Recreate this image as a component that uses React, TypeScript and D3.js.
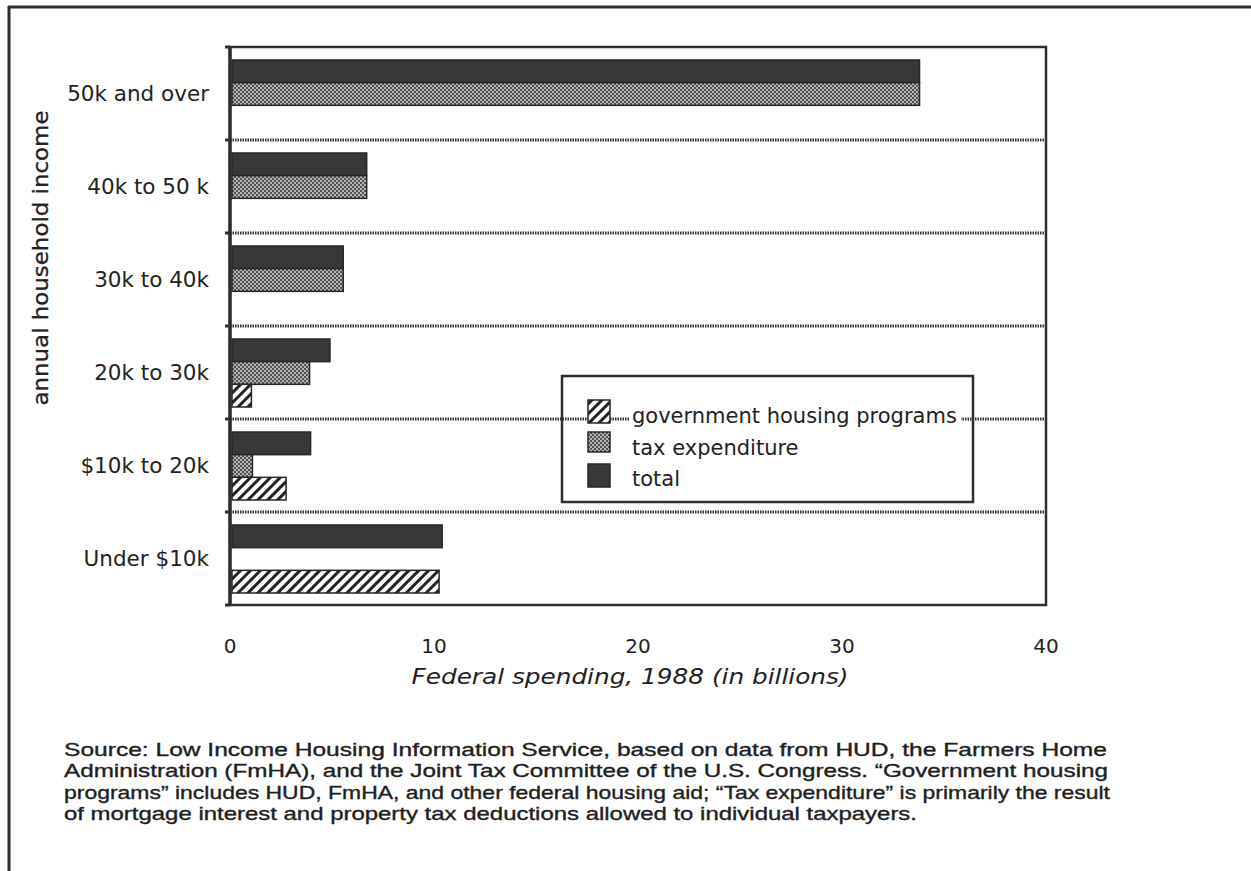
import React from "react";
import * as d3 from "d3";

const categories = ["50k and over", "40k to 50 k", "30k to 40k", "20k to 30k", "$10k to 20k", "Under $10k"];
const totalValues = [33.8, 6.7, 5.55, 4.9, 3.95, 10.4];
const taxValues = [33.8, 6.7, 5.55, 3.9, 1.1, 0];
const govValues = [0, 0, 0, 1.05, 2.75, 10.25];
const xTicks = [0, 10, 20, 30, 40];
const seriesKeys = ["total", "tax", "gov"];
const legendItems = [
  { key: "gov", label: "government housing programs" },
  { key: "tax", label: "tax expenditure" },
  { key: "total", label: "total" },
];
const sourceLines = [
  "Source:  Low Income Housing Information Service, based on data from HUD, the Farmers Home",
  "Administration (FmHA), and the Joint Tax Committee of the U.S. Congress.   \u201CGovernment housing",
  "programs\u201D includes HUD, FmHA, and other federal housing aid; \u201CTax expenditure\u201D is primarily the result",
  "of mortgage interest and property tax deductions allowed to individual taxpayers.",
];
const sourceWidths = [1043, 1044, 1046, 853];

const W = 1251;
const H = 871;
const left = 230;
const right = 1046;
const top = 47;
const bottom = 605;
const dark = "#2e2e2e";
const geneva = "'DejaVu Sans', Verdana, sans-serif";

export default function App() {
  const x = d3.scaleLinear().domain([0, 40]).range([left, right]);
  const y = d3.scaleBand<string>().domain(categories).range([top, bottom]);
  const inner = d3.scaleBand<string>().domain(seriesKeys).range([13, 81]);

  const fills: Record<string, string> = {
    total: "#383838",
    tax: "url(#stipple)",
    gov: "url(#hatch)",
  };
  const valuesFor: Record<string, number[]> = {
    total: totalValues,
    tax: taxValues,
    gov: govValues,
  };

  const separators = categories.slice(1).map((c) => y(c) as number);

  return (
    <svg
      width={W}
      height={H}
      style={{ position: "absolute", left: 0, top: 0, background: "#fff" }}
    >
      <defs>
        <pattern id="hatch" patternUnits="userSpaceOnUse" width="7" height="7" patternTransform="rotate(45)">
          <rect width="7" height="7" fill="#fff" />
          <rect x="0" y="0" width="3" height="7" fill="#222" />
        </pattern>
        <pattern id="stipple" patternUnits="userSpaceOnUse" width="4" height="4">
          <rect width="4" height="4" fill="#505050" />
          <circle cx="1" cy="1" r="0.9" fill="#e8e8e8" />
          <circle cx="3" cy="3" r="0.9" fill="#e8e8e8" />
        </pattern>
      </defs>

      {/* outer frame */}
      <line x1={8} x2={W} y1={7} y2={7} stroke={dark} strokeWidth={3} />
      <line x1={9} x2={9} y1={6} y2={H} stroke={dark} strokeWidth={3} />

      {/* separators */}
      {separators.map((sy, i) => (
        <g key={i}>
          <line x1={left} x2={right} y1={sy} y2={sy} stroke="#333" strokeWidth={3} strokeDasharray="1.5 1" />
          <line x1={left - 5} x2={left} y1={sy} y2={sy} stroke={dark} strokeWidth={3} />
        </g>
      ))}

      {/* bars */}
      {categories.map((c, ci) => (
        <g key={c} transform={`translate(0,${y(c)})`}>
          {seriesKeys.map((k) => {
            const v = valuesFor[k][ci];
            if (!v) return null;
            return (
              <rect
                key={k}
                x={x(0) + 2}
                y={inner(k) as number}
                width={x(v) - x(0) - 2}
                height={inner.bandwidth()}
                fill={fills[k]}
                stroke="#262626"
                strokeWidth={1.5}
              />
            );
          })}
        </g>
      ))}

      {/* plot frame */}
      <rect x={left} y={top} width={right - left} height={bottom - top} fill="none" stroke={dark} strokeWidth={2.5} />
      <line x1={left} x2={left} y1={top} y2={bottom} stroke={dark} strokeWidth={3.5} />
      <line x1={left - 5} x2={left} y1={top} y2={top} stroke={dark} strokeWidth={3} />
      <line x1={left - 5} x2={left} y1={bottom} y2={bottom} stroke={dark} strokeWidth={3} />

      {/* category labels */}
      {categories.map((c) => (
        <text
          key={c}
          x={209}
          y={(y(c) as number) + y.bandwidth() / 2}
          dy="0.36em"
          textAnchor="end"
          fontFamily={geneva}
          fontSize={21.5}
          fill="#222"
        >
          {c}
        </text>
      ))}

      {/* y title */}
      <text
        transform={`translate(48,258) rotate(-90)`}
        textAnchor="middle"
        fontFamily={geneva}
        fontSize={22}
        textLength={295}
        lengthAdjust="spacingAndGlyphs"
        fill="#222"
        stroke="#222"
        strokeWidth={0.3}
      >
        annual household income
      </text>

      {/* x ticks */}
      {xTicks.map((t) => (
        <text
          key={t}
          x={x(t)}
          y={653}
          textAnchor="middle"
          fontFamily={geneva}
          fontSize={20}
          fill="#222"
        >
          {t}
        </text>
      ))}
      <text
        x={630}
        y={684}
        textAnchor="middle"
        fontFamily={geneva}
        fontSize={21}
        fontStyle="italic"
        textLength={437}
        lengthAdjust="spacingAndGlyphs"
        fill="#222"
      >
        Federal spending, 1988 (in billions)
      </text>

      {/* legend */}
      <g>
        <rect x={562} y={376} width={411} height={126} fill="none" stroke={dark} strokeWidth={2.5} />
        {legendItems.map((it, i) => {
          const sy = [400, 432, 464][i];
          const by = [423, 455, 486][i];
          return (
            <g key={it.key}>
              <rect x={588} y={sy} width={22} height={i === 1 ? 20 : 23} fill={fills[it.key]} stroke="#262626" strokeWidth={1.5} />
              <rect x={629} y={sy} width={it.label.length * 12.3} height={24} fill="#fff" />
              <text x={632} y={by} fontFamily={geneva} fontSize={21} fill="#222">
                {it.label}
              </text>
            </g>
          );
        })}
      </g>

      {/* source note */}
      {sourceLines.map((s, i) => (
        <text
          key={i}
          x={64}
          y={756 + i * 21.3}
          fontFamily="'Liberation Sans', Arial, sans-serif"
          fontSize={18.5}
          textLength={sourceWidths[i]}
          lengthAdjust="spacingAndGlyphs"
          fill="#1e1e1e"
          stroke="#1e1e1e"
          strokeWidth={0.35}
        >
          {s}
        </text>
      ))}
    </svg>
  );
}
